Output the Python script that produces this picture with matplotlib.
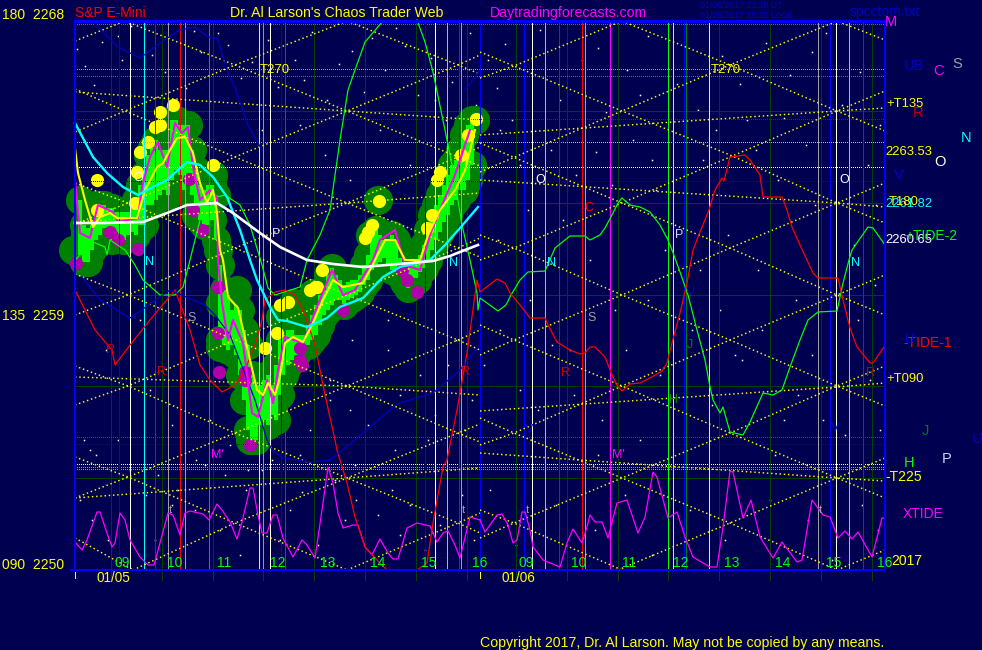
from matplotlib import pyplot as plt

# everything below in its own 982x650 raster scale
BG = "#000050"
DKGREEN = "#004000"
YELLOW = "#ffff00"
BRIGHT = "#00ff00"
MAGENTA = "#ff00ff"
CYAN = "#00ffff"
BLUE = "#0000ff"
DKBLUE = "#0000c8"
RED = "#ff0000"
DKRED = "#c80000"
GRAY = "#a0a0a0"
LAV = "#d0d0ff"

hour_grid = [111, 162, 213, 263, 314, 365, 416, 467, 516, 567, 618, 668, 719, 770, 821, 872]

v_blue = [119, 281, 425, 480, 524, 684, 830]
v_white = [130, 270, 435, 532, 836]
v_cyan = [144, 447, 545, 849]
v_dkred = [155, 459, 559, 863]
v_gray = [168, 185, 461, 585, 818]
v_red = [180, 582]
v_magenta = [209, 610]
v_yellow = [259, 709]
v_green = [263, 668]
v_dkgreen = [285, 686]
v_lav = [673]

h_solid = [111, 203, 295, 386, 478]
h_dotted = [
    (24, MAGENTA), (69, GRAY), (76, MAGENTA), (119, "#b00000"), (142, CYAN),
    (167, "#ffffff"), (181, BLUE), (437, "#008000"), (444, BLUE),
    (464, "#ffffff"), (467, BRIGHT), (469, BRIGHT),
]

# gann style lattice, day 1
lat1 = [
    ([75, 125], [41, 21]),
    ([125, 235, 347, 458, 480], [21, 65, 111, 157, 166]),
    ([347, 235, 125, 75], [21, 65, 111, 132]),
    ([347, 458, 480], [21, 65, 74]),
    ([75, 125, 235, 347, 458, 480], [89, 111, 157, 203, 248, 257]),
    ([75, 128, 235, 347, 458, 480], [183, 203, 248, 295, 340, 350]),
    ([75, 128, 235, 347, 458, 480], [224, 203, 157, 111, 65, 55]),
    ([75, 128, 235, 347, 458, 480], [274, 295, 340, 386, 433, 442]),
    ([75, 128, 235, 347, 458, 480], [315, 295, 248, 203, 157, 147]),
    ([75, 128, 235, 347, 458, 480], [366, 386, 433, 478, 523, 533]),
    ([75, 128, 235, 347, 458, 480], [405, 386, 340, 295, 248, 238]),
    ([75, 128, 235, 347], [457, 477, 523, 570]),
    ([75, 128, 235, 347, 458, 480], [498, 477, 433, 386, 340, 330]),
    ([75, 133], [538, 570]),
    ([133, 235, 347, 458, 480], [570, 523, 478, 433, 424]),
    ([347, 458, 480], [570, 523, 513]),
    ([75, 347, 480], [92, 111, 120]),
    ([75, 347, 480], [222, 203, 193]),
    ([75, 347, 480], [377, 386, 395]),
    ([75, 347, 480], [498, 478, 468]),
]
# lattice, day 2
lat2 = [
    ([480, 514, 622, 730, 837, 885], [52, 66, 111, 155, 203, 223]),
    ([622, 730, 837, 885], [21, 65, 111, 131]),
    ([480, 622, 730, 837, 885], [143, 203, 248, 295, 315]),
    ([480, 514, 622, 730, 837, 885], [235, 248, 295, 340, 386, 406]),
    ([480, 514, 622, 730, 837, 885], [325, 340, 386, 433, 478, 498]),
    ([480, 514, 622, 730, 837], [418, 433, 478, 523, 570]),
    ([480, 514, 622], [510, 523, 570]),
    ([480, 514, 622], [78, 66, 21]),
    ([480, 622, 730, 837, 885], [172, 111, 65, 21, 40]),
    ([480, 514, 622, 730, 837, 885], [260, 248, 203, 157, 111, 91]),
    ([480, 514, 622, 730, 837, 885], [355, 340, 295, 248, 203, 183]),
    ([480, 514, 622, 730, 837, 885], [445, 433, 386, 340, 295, 275]),
    ([480, 514, 622, 730, 837, 885], [538, 523, 478, 433, 386, 366]),
    ([618, 730, 837, 885], [570, 523, 478, 458]),
    ([837, 885], [570, 550]),
    ([480, 837, 885], [135, 111, 108]),
    ([480, 837, 885], [180, 203, 207]),
    ([480, 837, 885], [411, 387, 383]),
    ([480, 837, 885], [453, 478, 481]),
]

xtide_x1 = [75, 82, 87, 97, 100, 107, 112, 115, 120, 125, 130, 140, 148, 154, 160, 168, 173, 180, 185, 190, 203, 209,
            217, 222, 230, 237, 242, 250, 253, 258, 262, 267, 273, 277, 283, 293, 302, 307, 315, 322, 328, 333, 338,
            343, 353, 358, 365, 372, 380, 388, 393, 398, 407, 417, 430, 437, 443, 448, 455, 460, 470, 480]
xtide_y1 = [542, 550, 540, 512, 512, 533, 547, 543, 513, 520, 540, 557, 565, 565, 543, 513, 515, 535, 513, 511, 514, 520,
            504, 510, 522, 539, 522, 488, 488, 515, 533, 533, 515, 515, 538, 557, 540, 545, 558, 510, 467, 483, 513,
            528, 525, 525, 547, 555, 539, 553, 559, 559, 528, 523, 526, 542, 533, 531, 545, 558, 517, 520]
xtide_x2 = [480, 485, 497, 502, 508, 513, 517, 522, 525, 530, 533, 543, 560, 567, 573, 582, 587, 590, 595, 602, 608, 617,
            627, 638, 645, 653, 657, 668, 677, 685, 693, 710, 717, 723, 730, 733, 743, 751, 760, 773, 782, 797, 802,
            812, 823, 830, 838, 845, 852, 858, 872, 882, 885]
xtide_y2 = [520, 532, 515, 514, 525, 543, 540, 512, 512, 530, 547, 560, 567, 543, 529, 543, 527, 515, 522, 522, 538, 503,
            500, 533, 517, 472, 477, 518, 512, 537, 557, 567, 567, 527, 471, 472, 518, 500, 537, 558, 542, 562, 560,
            500, 515, 517, 538, 531, 539, 532, 557, 518, 518]

tide2_x1 = [75, 93, 105, 107, 110, 125, 135, 143, 160, 175, 183, 190, 200, 217, 225, 240, 250, 262, 268, 275, 300, 307,
            320, 330, 340, 348, 355, 365, 383]
tide2_y1 = [260, 242, 247, 255, 240, 250, 265, 280, 295, 295, 287, 260, 220, 197, 195, 205, 225, 265, 288, 295, 287, 260,
            235, 210, 140, 90, 70, 42, 21]
tide2_x1b = [417, 425, 433, 445, 453, 462, 470, 477, 478, 480, 498, 506, 511, 520, 528, 545, 555, 570, 585, 590, 600, 605,
             612, 618, 622, 630, 640, 650, 660, 668, 672, 680, 688, 697, 705, 710, 713, 720, 723, 730, 743, 750, 763, 773,
             782, 790, 800, 808, 818, 837, 843, 849, 852, 868, 873, 885]
tide2_y1b = [20, 42, 72, 130, 170, 225, 260, 293, 310, 298, 311, 305, 295, 280, 272, 271, 248, 236, 236, 240, 235, 228,
             215, 203, 198, 205, 207, 212, 225, 240, 250, 272, 295, 330, 360, 387, 400, 413, 407, 432, 435, 422, 393, 395,
             390, 367, 340, 320, 312, 311, 283, 260, 250, 227, 228, 245]

tide1_x = [75, 95, 112, 115, 130, 150, 175, 190, 200, 210, 222, 235, 245, 255, 262, 265, 275, 285, 295, 305, 315, 325,
           335, 337, 347, 355, 365, 377, 387]
tide1_y = [290, 330, 350, 365, 345, 320, 290, 330, 365, 380, 392, 385, 370, 345, 320, 300, 292, 290, 295, 315, 345, 395,
           440, 450, 483, 517, 547, 560, 570]
tide1_xb = [417, 427, 433, 443, 447, 457, 467, 477, 480, 497, 505, 510, 520, 530, 545, 548, 557, 570, 580, 585, 590, 595,
            605, 612, 618, 622, 630, 640, 650, 662, 667, 672, 680, 687, 693, 700, 709, 715, 722, 724, 730, 745, 750, 760,
            763, 775, 782, 787, 792, 800, 813, 818, 838, 843, 850, 857, 870, 873, 884]
tide1_yb = [570, 563, 523, 467, 460, 410, 353, 280, 292, 279, 283, 293, 305, 318, 318, 325, 342, 350, 354, 353, 347, 347,
            357, 375, 387, 391, 384, 383, 378, 371, 363, 343, 313, 283, 250, 232, 210, 190, 178, 181, 157, 155, 160, 175,
            197, 197, 197, 210, 227, 245, 273, 278, 278, 300, 328, 347, 363, 363, 347]

blue_a_x = [93, 118, 140, 160, 172, 180, 195, 208, 218, 225, 235, 248, 262]
blue_a_y = [22, 47, 58, 43, 35, 30, 27, 37, 39, 65, 88, 125, 150]
blue_b_x = [82, 100, 130, 170, 205, 215, 230, 255, 267, 272, 283, 310, 330, 357, 397, 433, 460, 478]
blue_b_y = [277, 300, 318, 290, 305, 315, 335, 400, 440, 450, 458, 462, 460, 438, 404, 393, 370, 347]
blue_c_x = [465, 480]
blue_c_y = [90, 70]

white_x = [75, 103, 143, 167, 187, 217, 233, 260, 280, 307, 333, 363, 387, 433, 450, 465, 478]
white_y = [223, 223, 222, 213, 205, 203, 213, 233, 247, 260, 264, 267, 265, 261, 256, 250, 245]

cyan_x = [75, 93, 107, 123, 138, 147, 167, 187, 200, 213, 227, 240, 250, 257, 270, 278, 287, 307, 327, 340, 363, 383, 400,
          430, 445, 460, 478]
cyan_y = [123, 157, 173, 187, 195, 190, 180, 162, 165, 177, 197, 230, 260, 280, 307, 320, 321, 327, 318, 307, 298, 277, 267,
          260, 245, 228, 207]

yel_x = [75, 78, 85, 93, 100, 110, 117, 137, 145, 157, 163, 170, 177, 185, 193, 200, 207, 213, 217, 220, 223, 228, 238, 247,
         257, 263, 268, 275, 280, 285, 293, 303, 313, 323, 333, 343, 363, 370, 375, 385, 395, 405, 420, 428, 440, 455, 465,
         475]
yel_y = [148, 173, 200, 227, 217, 213, 218, 218, 190, 167, 163, 150, 138, 137, 153, 183, 203, 190, 213, 250, 260, 297, 308,
         347, 390, 395, 383, 395, 377, 343, 337, 342, 323, 300, 280, 287, 283, 270, 260, 240, 240, 260, 260, 235, 210, 190,
         170, 130]

mag_x = [75, 80, 90, 95, 98, 113, 118, 138, 142, 150, 158, 167, 175, 182, 188, 193, 200, 210, 217, 218, 222, 228, 233, 243,
         252, 258, 267, 273, 278, 285, 303, 317, 332, 343, 355, 373, 380, 395, 405, 420, 430, 440, 455, 470]
mag_y = [180, 233, 238, 217, 205, 212, 222, 218, 187, 157, 142, 167, 123, 133, 127, 167, 200, 190, 197, 260, 303, 340, 320,
         343, 413, 417, 380, 403, 370, 337, 343, 307, 270, 295, 290, 260, 240, 230, 265, 270, 235, 210, 175, 130]

# extra circles of the green band where it bulges past the bars
blob_x = [73, 85, 97, 120, 150, 160, 173, 187, 213, 218, 237, 220, 220, 243, 250, 273, 278, 280, 307, 293, 313, 333, 343,
          370, 378, 407, 417, 437, 445, 460, 475]
blob_y = [250, 235, 210, 225, 205, 157, 120, 125, 175, 250, 290, 303, 347, 373, 440, 410, 377, 317, 333, 303, 293, 287, 297,
          235, 200, 270, 280, 205, 190, 160, 120]

bar_x = list(range(80, 476, 4))
bar_top = [200, 225, 228, 225, 205, 205, 205, 208, 208, 212, 212, 212, 212, 208, 200, 185, 175, 155, 148, 140, 150, 150, 150,
           120, 120, 125, 125, 125, 150, 170, 185, 190, 185, 185, 195, 265, 290, 295, 310, 305, 310, 330, 345, 375, 385, 385,
           380, 375, 385, 365, 340, 335, 330, 330, 335, 335, 335, 325, 315, 305, 295, 290, 275, 268, 275, 280, 285, 282, 280,
           280, 275, 265, 255, 235, 230, 235, 240, 240, 235, 240, 258, 262, 262, 262, 260, 255, 245, 230, 215, 205, 195, 185,
           175, 165, 160, 150, 135, 125, 120]
bar_bot = [255, 262, 262, 250, 240, 235, 228, 232, 240, 232, 238, 240, 235, 232, 235, 225, 225, 205, 205, 200, 195, 190, 195,
           180, 170, 175, 190, 180, 195, 215, 220, 225, 225, 220, 240, 340, 345, 350, 345, 355, 375, 400, 430, 440, 440, 425,
           420, 425, 415, 420, 395, 375, 365, 360, 355, 345, 345, 345, 340, 335, 325, 315, 310, 305, 300, 300, 305, 300, 298,
           295, 292, 285, 280, 270, 265, 262, 258, 265, 270, 272, 275, 282, 288, 282, 278, 272, 268, 260, 250, 240, 232, 222,
           215, 205, 200, 190, 190, 180, 165]

high_x = [97, 97, 137, 135, 140, 148, 155, 160, 160, 173, 213, 310, 317, 280, 288, 277, 265, 322, 315, 379, 372, 368, 365, 440,
          437, 432, 427, 461, 468, 476]
high_y = [180, 210, 172, 203, 152, 142, 127, 125, 112, 105, 165, 290, 287, 305, 302, 333, 348, 270, 287, 201, 225, 232, 238,
          172, 180, 215, 228, 155, 135, 119]
low_x = [76, 118, 110, 138, 189, 193, 202, 218, 218, 219, 245, 245, 250, 300, 300, 302, 343, 407, 417, 402]
low_y = [263, 240, 232, 249, 179, 210, 230, 287, 333, 372, 372, 380, 445, 348, 360, 365, 310, 280, 292, 270]

# the white specks of the background, as seen in the picture
stars = [
    (77, 49), (85, 66), (94, 85), (102, 42), (118, 36), (122, 60), (131, 26), (152, 55), (165, 72), (186, 88),
    (194, 31), (201, 52), (218, 33), (228, 45), (241, 78), (252, 62), (268, 40), (278, 87), (295, 60), (304, 80),
    (312, 32), (327, 100), (339, 64), (352, 51), (364, 92), (372, 38), (385, 70), (396, 28), (405, 46), (418, 95),
    (431, 58), (446, 120), (452, 82), (470, 33), (476, 105), (80, 500), (92, 520), (108, 540), (146, 495), (172, 505),
    (220, 530), (246, 490), (290, 510), (302, 492), (318, 545), (335, 480), (356, 500), (378, 515), (392, 490),
    (410, 505), (440, 525), (462, 495), (474, 540), (488, 60), (497, 88), (505, 44), (512, 120), (528, 210), (540, 30),
    (551, 150), (563, 220), (576, 175), (590, 260), (598, 48), (606, 112), (615, 310), (627, 70), (633, 140), (648, 36),
    (656, 190), (665, 250), (677, 84), (692, 330), (703, 160), (722, 56), (728, 235), (735, 355), (747, 120), (758, 270),
    (766, 43), (778, 180), (790, 75), (796, 300), (806, 145), (815, 205), (826, 33), (842, 105), (854, 245), (868, 165),
    (875, 285), (880, 125), (484, 365), (500, 330), (520, 390), (538, 410), (570, 350), (602, 420), (640, 440),
    (660, 375), (712, 405), (742, 360), (775, 455), (798, 395), (823, 420), (845, 435), (870, 380), (490, 490),
    (516, 545), (556, 505), (595, 530), (625, 495), (652, 555), (690, 510), (725, 540), (770, 500), (808, 520),
    (832, 560), (862, 505), (878, 530), (330, 380), (350, 410), (368, 425), (388, 350), (400, 395), (428, 440),
    (448, 365), (300, 455), (262, 470), (240, 440), (225, 475), (205, 465), (178, 490), (158, 475), (96, 455),
    (84, 440), (106, 350), (140, 320), (330, 400), (352, 340), (388, 320), (420, 375), (456, 340), (472, 400),
    (300, 350), (272, 460), (248, 470), (230, 445), (210, 420), (196, 460), (172, 425), (150, 390), (118, 440), (90, 450),
    (500, 130), (520, 165), (560, 100), (582, 60), (596, 152), (612, 185), (640, 95), (652, 160), (698, 110), (716, 130),
    (740, 84), (756, 150), (784, 118), (812, 52), (860, 72), (876, 205), (498, 240), (530, 300), (552, 345), (574, 395),
    (598, 455), (626, 350), (648, 300), (700, 270), (720, 310), (762, 330), (784, 420), (812, 355), (858, 320), (880, 430),
    (310, 430), (355, 465), (395, 450), (435, 415), (465, 430), (345, 520), (400, 535), (425, 550), (130, 470), (155, 540),
    (195, 510), (240, 555), (280, 540), (300, 125), (325, 155), (350, 180), (380, 130), (410, 165), (435, 100), (262, 130),
]
star_x = [p[0] for p in stars]
star_y = [p[1] for p in stars]

# x, y, text, colour, font size
labels = [
    (2, 15, "180  2268", YELLOW, 10), (2, 316, "135  2259", YELLOW, 10), (2, 565, "090  2250", YELLOW, 10),
    (75, 13, "S&P E-Mini", RED, 10), (230, 13, "Dr. Al Larson's Chaos Trader Web", YELLOW, 10.2),
    (490, 13, "Daytradingforecasts.com", MAGENTA, 10.2),
    (700, 5, "01/05/2017 21:20 UT", DKBLUE, 6.3), (700, 15, "01/05/2017 16:20 Local", DKBLUE, 6.3),
    (850, 12, "spcctom.txt", DKBLUE, 10),
    (885, 22, "M", MAGENTA, 10.5), (904, 66, "UB", DKBLUE, 10.5), (933, 71, "C", MAGENTA, 10.5), (952, 64, "S", GRAY, 10.5),
    (886, 104, "+T135", YELLOW, 9.4), (913, 113, "R", DKRED, 10.5), (961, 138, "N", CYAN, 10.5),
    (885, 152, "2263.53", YELLOW, 9.4), (934, 162, "O", "#ffffff", 10.5), (894, 175, "V", DKBLUE, 10.5),
    (885, 204, "2261.82", CYAN, 9.4), (889, 202, "T180", YELLOW, 9.4), (885, 240, "2260.65", "#ffffff", 9.4),
    (905, 236, "+TIDE-2", BRIGHT, 10), (903, 343, "-TIDE-1", RED, 10), (886, 379, "+T090", YELLOW, 9.4),
    (922, 431, "J", "#008000", 10.5), (972, 439, "U", DKBLUE, 10.5), (904, 463, "H", BRIGHT, 10.5),
    (942, 459, "P", LAV, 10.5), (885, 477, "-T225", YELLOW, 10), (903, 514, "XTIDE", MAGENTA, 10),
    (891, 561, "2017", YELLOW, 10),
    (97, 578, "01/05", YELLOW, 9.8), (502, 578, "01/06", YELLOW, 9.8),
    (480, 643, "Copyright 2017, Dr. Al Larson. May not be copied by any means.", YELLOW, 10.2),
    (260, 70, "T270", YELLOW, 9.5), (711, 70, "T270", YELLOW, 9.5),
    (145, 262, "N", CYAN, 9), (133, 178, "O", "#ffffff", 9), (187, 318, "S", GRAY, 9), (211, 455, "M'", MAGENTA, 9),
    (272, 234, "P", LAV, 9), (106, 350, "R", DKRED, 9), (157, 372, "R", DKRED, 9), (449, 263, "N", CYAN, 9),
    (461, 372, "R", DKRED, 9), (169, 510, "t", GRAY, 8), (462, 510, "t", GRAY, 8), (526, 510, "t", GRAY, 8),
    (819, 510, "t", GRAY, 8), (547, 263, "N", CYAN, 9), (535, 180, "O", "#ffffff", 9), (587, 318, "S", GRAY, 9),
    (561, 373, "R", DKRED, 9), (612, 455, "M'", MAGENTA, 9), (675, 235, "P", LAV, 9), (669, 400, "H", "#008000", 9),
    (687, 345, "J", "#008000", 9), (686, 291, "U", DKBLUE, 9), (584, 208, "C", RED, 9), (839, 180, "O", "#ffffff", 9),
    (851, 263, "N", CYAN, 9), (866, 373, "R", DKRED, 9), (831, 428, "V", DKBLUE, 9), (525, 430, "V", DKBLUE, 9),
    (905, 340, "U", DKBLUE, 9),
]
hour_labels = ["09", "10", "11", "12", "13", "14", "15", "16"]
hour_pos = [115, 167, 217, 270, 320, 370, 421, 472, 519, 571, 622, 673, 724, 775, 826, 877]

fig = plt.figure(figsize=(9.82, 6.5), dpi=100, facecolor=BG)
ax = fig.add_axes([0, 0, 1, 1])
ax.set_xlim(0, 982)
ax.set_ylim(650, 0)
ax.axis("off")

thin = 0.7
dots = (0, (1.0, 1.9))


def vlines(xs, color, z=3.0, lw=thin, y0=21, y1=570):
    for x in xs:
        ax.plot([x, x], [y0, y1], color=color, lw=lw, zorder=z, antialiased=False, solid_capstyle="butt")


def curve(xs, ys, color, z=4.0, lw=0.9):
    ax.plot(xs, ys, color=color, lw=lw, zorder=z)


# the price band sits under all the planet lines, a circle at each end of each bar
ax.plot(bar_x, bar_top, "o", ms=21, mew=0, color="#008000", zorder=1)
ax.plot(bar_x, bar_bot, "o", ms=21, mew=0, color="#008000", zorder=1)
ax.plot(blob_x, blob_y, "o", ms=21, mew=0, color="#008000", zorder=1)
ax.vlines(bar_x, bar_top, bar_bot, color=BRIGHT, lw=1.5, zorder=1.2, antialiased=False)
ax.plot(high_x, high_y, "o", ms=9.5, mew=0, color=YELLOW, zorder=1.5)
ax.plot(low_x, low_y, "o", ms=9.5, mew=0, color="#b000a8", zorder=1.5)

ax.plot(star_x, star_y, "s", ms=1.1, mew=0, color="#ffffff", zorder=0.5)

vlines(hour_grid, DKGREEN, z=0.8, y1=580)
vlines(v_blue, BLUE)
vlines(v_white, "#ffffff")
vlines(v_cyan, CYAN)
vlines(v_dkred, DKRED)
vlines(v_gray, GRAY)
vlines(v_red, RED)
vlines(v_magenta, MAGENTA)
vlines(v_yellow, YELLOW)
vlines(v_green, BRIGHT)
vlines(v_dkgreen, "#008000")
vlines(v_lav, LAV)

for y in h_solid:
    ax.plot([75, 885], [y, y], color=DKGREEN, lw=thin, zorder=0.8, antialiased=False)
for y, c in h_dotted:
    ax.plot([75, 885], [y, y], color=c, lw=thin, ls=dots, zorder=2.5, antialiased=False)
for xs, ys in lat1 + lat2:
    ax.plot(xs, ys, color=YELLOW, lw=1.05, ls=dots, zorder=3.2)

curve(xtide_x1, xtide_y1, MAGENTA)
curve(xtide_x2, xtide_y2, MAGENTA)
curve(tide2_x1, tide2_y1, BRIGHT)
curve(tide2_x1b, tide2_y1b, BRIGHT)
curve(tide1_x, tide1_y, RED)
curve(tide1_xb, tide1_yb, RED)
curve(blue_a_x, blue_a_y, DKBLUE)
curve(blue_b_x, blue_b_y, DKBLUE)
curve(blue_c_x, blue_c_y, DKBLUE)

curve(mag_x, mag_y, MAGENTA, z=5, lw=1.5)
curve(yel_x, yel_y, YELLOW, z=5.2, lw=1.5)
curve(cyan_x, cyan_y, CYAN, z=5.4, lw=1.7)
curve(white_x, white_y, "#ffffff", z=5.6, lw=1.9)

# frame
ax.plot([75, 885], [21, 21], color=BLUE, lw=1.0, zorder=6, antialiased=False)
ax.plot([71, 885], [570, 570], color=BLUE, lw=1.2, zorder=6, antialiased=False)
vlines([75, 885], BLUE, z=6, lw=1.4)
vlines([75, 480], YELLOW, z=6, y0=572, y1=578)

for x, y, s, c, fs in labels:
    ax.text(x, y, s, color=c, fontsize=fs, family="Liberation Sans", ha="left", va="center", zorder=7)
for i, x in enumerate(hour_pos):
    ax.text(x, 563, hour_labels[i % 8], color=BRIGHT, fontsize=10, family="Liberation Sans", ha="left", va="center", zorder=7)

fig.savefig("out.png", dpi=100, facecolor=BG)
